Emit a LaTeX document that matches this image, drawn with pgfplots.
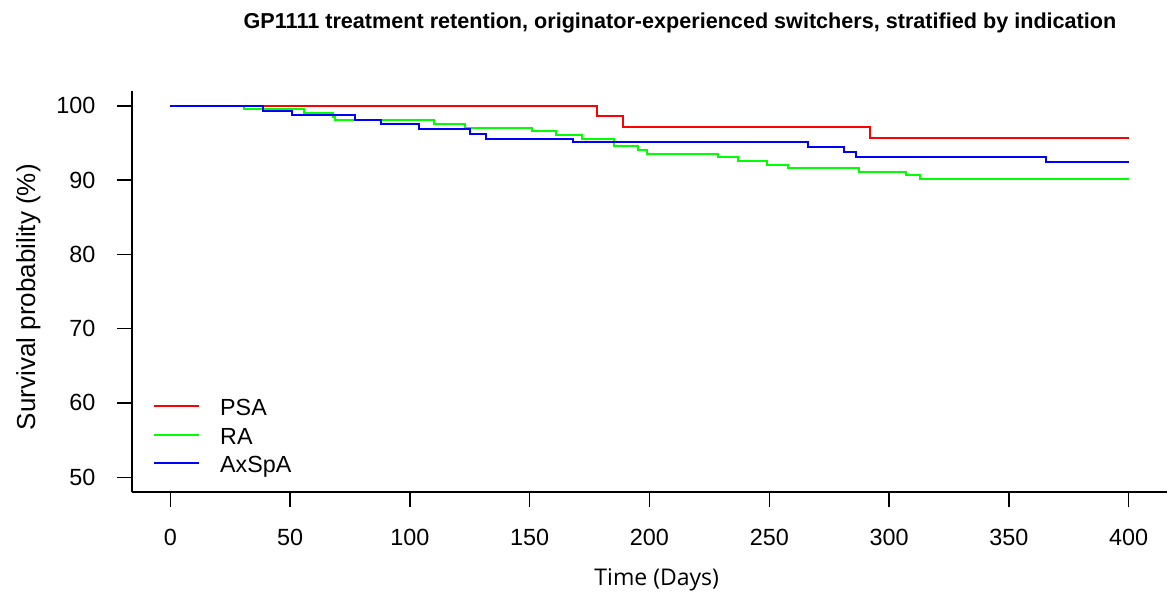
\documentclass[border=0pt]{standalone}
\usepackage{pgfplots}
\pgfplotsset{compat=1.18}
\usepackage{fontspec}
\setmainfont{Liberation Sans}
\newfontfamily\opensans{Open Sans}
\definecolor{rred}{RGB}{255,0,0}
\definecolor{rgreen}{RGB}{0,255,0}
\definecolor{rblue}{RGB}{0,0,255}
\begin{document}
\begin{tikzpicture}
\useasboundingbox (0pt,0pt) rectangle (1169pt,-598pt);
\node[font=\bfseries\fontsize{21.6}{26}\selectfont, anchor=base] at (680pt,-28pt) {GP1111 treatment retention, originator-experienced switchers, stratified by indication};
\begin{axis}[
  at={(132pt,-492pt)}, anchor=south west,
  scale only axis, width=1035pt, height=401pt,
  xmin=-16, xmax=416, ymin=48, ymax=102,
  axis x line*=bottom, axis y line*=left,
  axis line style={-, line width=1.3pt, black},
  tick align=outside, major tick length=15pt,
  tick style={line width=1.3pt, black},
  xtick={0,50,...,400}, ytick={50,60,...,100},
  /pgf/number format/assume math mode=true,
  ticklabel style={font=\fontsize{23.4}{28}\selectfont},
  yticklabel style={xshift=-18pt},
  xticklabel style={yshift=-19pt},
  xlabel={\opensans Time (Days)},
  ylabel={Survival probability (\%)},
  every axis x label/.style={at={(rel axis cs:0.507,0)}, anchor=center, yshift=-88pt, font=\fontsize{23}{28}\selectfont},
  every axis y label/.style={at={(rel axis cs:-0.1,0.486)}, anchor=center, rotate=90, font=\fontsize{26}{30}\selectfont},
  clip=false,
  legend style={at={(rel axis cs:0.0203,0.2352)}, anchor=north west, draw=none, fill=none,
    font=\fontsize{23.3}{28}\selectfont, inner sep=0pt,
    nodes={inner sep=0pt, text height=18pt, text depth=5pt},
    row sep=5.3pt},
  legend cell align=left,
  legend image code/.code={\draw[#1] (0pt,3pt) -- (45pt,3pt); \path (65pt,3pt);},
]
\addplot[const plot, color=rred, line width=2pt] coordinates {(0,100) (177.9,98.57) (189,97.14) (292,95.71) (400,95.71)};
\addlegendentry{PSA}
\addplot[const plot, color=rgreen, line width=2pt] coordinates {(0,100) (30.8,99.55) (55.6,98.99) (68.1,98.5) (68.7,98.03) (110,97.5) (123.1,97.0) (150.9,96.56) (160.9,96.03) (172,95.5) (185.2,94.6) (195,94.06) (199,93.57) (228.8,93.07) (237,92.58) (249,92.09) (257.8,91.6) (287.5,91.15) (307,90.66) (313,90.2) (400,90.2)};
\addlegendentry{RA}
\addplot[const plot, color=rblue, line width=2pt] coordinates {(0,100) (38.8,99.37) (50.7,98.8) (77,98.12) (88,97.5) (103.9,96.87) (125,96.27) (131.7,95.6) (168.2,95.1) (266,94.4) (281.2,93.8) (286.3,93.16) (365.3,92.5) (400,92.5)};
\addlegendentry{AxSpA}
\end{axis}
\end{tikzpicture}
\end{document}
